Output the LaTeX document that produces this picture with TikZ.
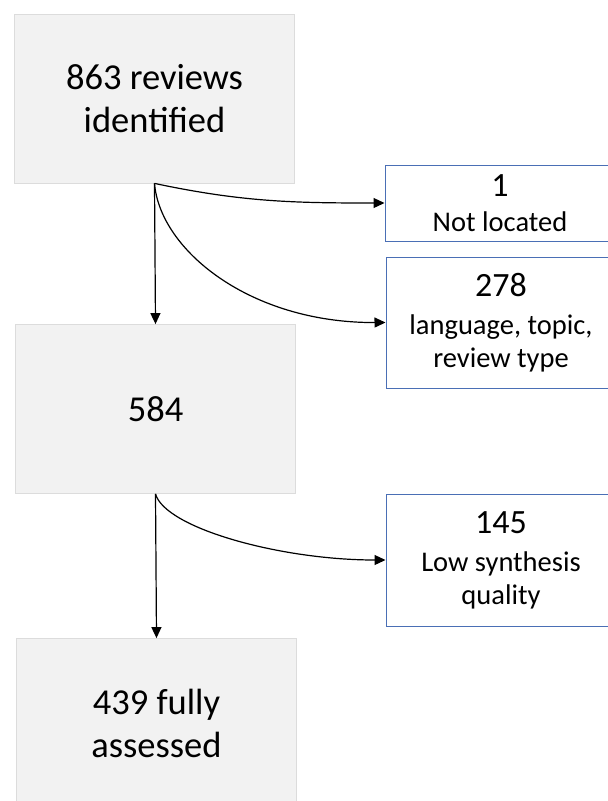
\documentclass[tikz,border=0pt]{standalone}
\usepackage{fontspec}
\setmainfont{Carlito}
\usetikzlibrary{arrows.meta}

\definecolor{boxgray}{HTML}{F2F2F2}
\definecolor{linegray}{HTML}{DCDCDC}
\definecolor{exblue}{HTML}{4A6FB5}
\newcommand{\excount}[1]{{\fontsize{34}{33}\selectfont #1}}

\begin{document}
\begin{tikzpicture}[x=1pt,y=-1pt,
    stage/.style={draw=linegray, fill=boxgray, line width=0.8pt, minimum width=280pt,
      minimum height=169pt, align=center, font=\fontsize{36.5}{43}\selectfont},
    excluded/.style={draw=exblue, fill=white, line width=1pt, minimum width=230pt,
      align=center, font=\fontsize{28.5}{33}\selectfont},
    flow/.style={line width=1.2pt, -{Triangle[length=11pt,width=10pt]}}]
  \useasboundingbox (0,0) rectangle (608,801);
  % main stages
  \node[stage] (identified) at (154.5,98.5) {863 reviews\\identified};
  \node[stage] (screened) at (155.5,409) {584};
  \node[stage] (assessed) at (156.5,723) {439 fully\\assessed};
  % exclusions
  \node[excluded, minimum height=76pt] (notlocated) at (500,203)
    {\excount{1}\\[2pt]Not located};
  \node[excluded, minimum height=131pt] (excltype) at (501,322.5)
    {\excount{278}\\[5pt]language, topic,\\review type};
  \node[excluded, minimum height=132pt] (lowquality) at (501,560)
    {\excount{145}\\[5pt]Low synthesis\\quality};
  % connectors
  \draw[flow] (identified.south) -- (screened.north);
  \draw[flow] (identified.south) to[out=-12,in=180] (notlocated.west);
  \draw[flow] (identified.south) .. controls (160,250) and (250,323) .. (excltype.west);
  \draw[flow] (screened.south) -- (assessed.north);
  \draw[flow] (screened.south) .. controls (165,528) and (280,560) .. (lowquality.west);
\end{tikzpicture}
\end{document}
